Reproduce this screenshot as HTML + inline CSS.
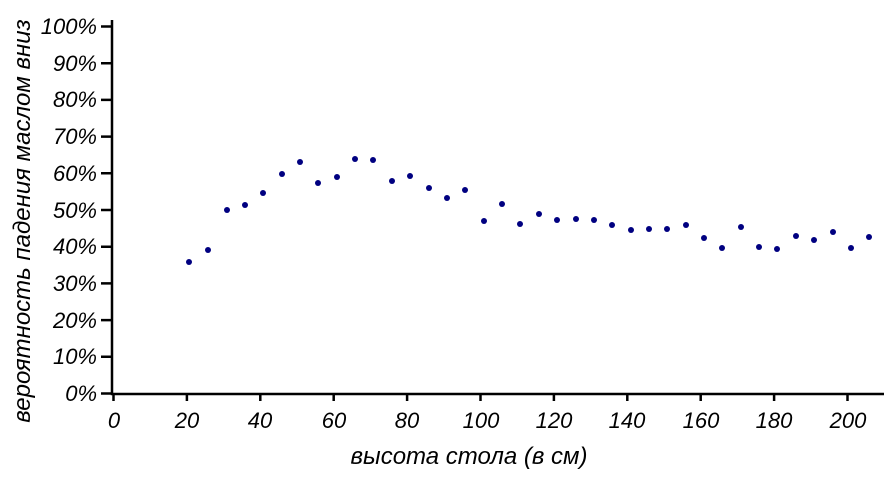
<!DOCTYPE html>
<html><head><meta charset="utf-8"><style>body{margin:0;background:#fff}svg text{font-family:"Liberation Sans",sans-serif;font-style:italic;font-size:22px;fill:#000}</style></head><body>
<svg width="884" height="472" xmlns="http://www.w3.org/2000/svg">
<g stroke="#000" stroke-width="2.5" fill="none">
<path d="M112,20 V394 H884"/>
<path d="M101,393.5h11M101,356.8h11M101,320.1h11M101,283.4h11M101,246.7h11M101,210h11M101,173.3h11M101,136.6h11M101,99.9h11M101,63.2h11M101,26.5h11"/>
<path d="M113.5,394v7M186.9,394v7M260.3,394v7M333.7,394v7M407.1,394v7M480.5,394v7M553.9,394v7M627.3,394v7M700.7,394v7M774.1,394v7M847.5,394v7"/>
</g>
<g text-anchor="end">
<text x="97" y="401">0%</text><text x="97" y="364">10%</text><text x="97" y="328">20%</text><text x="97" y="291">30%</text><text x="97" y="254">40%</text><text x="97" y="218">50%</text><text x="97" y="181">60%</text><text x="97" y="144">70%</text><text x="97" y="107">80%</text><text x="97" y="71">90%</text><text x="97" y="34">100%</text>
</g>
<g text-anchor="middle">
<text x="114" y="428">0</text><text x="187" y="428">20</text><text x="260" y="428">40</text><text x="334" y="428">60</text><text x="407" y="428">80</text><text x="481" y="428">100</text><text x="554" y="428">120</text><text x="627" y="428">140</text><text x="701" y="428">160</text><text x="774" y="428">180</text><text x="848" y="428">200</text>
<text x="469" y="464" style="font-size:24px">высота стола (в см)</text>
<text transform="translate(30,221) rotate(-90)" style="font-size:24px">вероятность падения маслом вниз</text>
</g>
<g fill="#000080">
<circle cx="189" cy="262" r="3"/><circle cx="208" cy="250" r="3"/><circle cx="227" cy="210" r="3"/><circle cx="245" cy="205" r="3"/><circle cx="263" cy="193" r="3"/><circle cx="282" cy="174" r="3"/><circle cx="300" cy="162" r="3"/><circle cx="318" cy="183" r="3"/><circle cx="337" cy="177" r="3"/><circle cx="355" cy="159" r="3"/><circle cx="373" cy="160" r="3"/><circle cx="392" cy="181" r="3"/><circle cx="410" cy="176" r="3"/><circle cx="429" cy="188" r="3"/><circle cx="447" cy="198" r="3"/><circle cx="465" cy="190" r="3"/><circle cx="484" cy="221" r="3"/><circle cx="502" cy="204" r="3"/><circle cx="520" cy="224" r="3"/><circle cx="539" cy="214" r="3"/><circle cx="557" cy="220" r="3"/><circle cx="576" cy="219" r="3"/><circle cx="594" cy="220" r="3"/><circle cx="612" cy="225" r="3"/><circle cx="631" cy="230" r="3"/><circle cx="649" cy="229" r="3"/><circle cx="667" cy="229" r="3"/><circle cx="686" cy="225" r="3"/><circle cx="704" cy="238" r="3"/><circle cx="722" cy="248" r="3"/><circle cx="741" cy="227" r="3"/><circle cx="759" cy="247" r="3"/><circle cx="777" cy="249" r="3"/><circle cx="796" cy="236" r="3"/><circle cx="814" cy="240" r="3"/><circle cx="833" cy="232" r="3"/><circle cx="851" cy="248" r="3"/><circle cx="869" cy="237" r="3"/>
</g>
</svg>
</body></html>
